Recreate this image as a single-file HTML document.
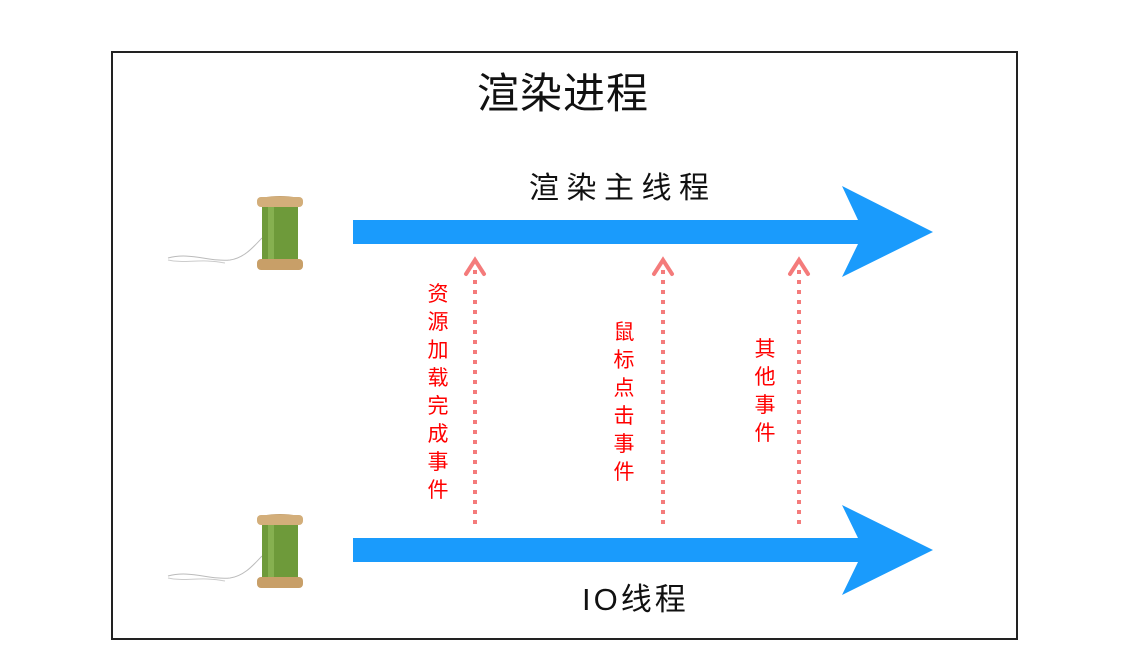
<!DOCTYPE html>
<html><head><meta charset="utf-8"><style>
body{margin:0;width:1142px;height:661px;background:#fff;position:relative;overflow:hidden;font-family:"Liberation Sans","Noto Sans CJK SC","WenQuanYi Zen Hei",sans-serif}
.box{position:absolute;left:111px;top:51px;width:903px;height:585px;border:2px solid #222}
.t{position:absolute;white-space:nowrap;color:#111}
.v{position:absolute;width:30px;text-align:center;color:#f00;font-size:21px;line-height:28px}
</style></head><body>
<div class="box"></div>
<div class="t" style="left:477px;top:70px;font-size:42px;line-height:48px;letter-spacing:1px">渲染进程</div>
<div class="t" style="left:529px;top:172px;font-size:30px;line-height:34px;letter-spacing:7.5px">渲染主线程</div>
<div class="t" style="left:582px;top:583px;font-size:31px;line-height:34px;letter-spacing:3px">IO线程</div>
<svg width="1142" height="661" style="position:absolute;left:0;top:0">
<polygon points="353,220 858,220 842,186 933,232 842,277 858,244 353,244" fill="#1a9bfc"/>
<polygon points="353,538 858,538 842,505 933,550 842,595 858,562 353,562" fill="#1a9bfc"/>
<g stroke="#f47b7b" fill="none">
<line x1="475" y1="270" x2="475" y2="524" stroke-width="4" stroke-dasharray="4 6"/>
<line x1="663" y1="270" x2="663" y2="524" stroke-width="4" stroke-dasharray="4 6"/>
<line x1="799" y1="270" x2="799" y2="524" stroke-width="4" stroke-dasharray="4 6"/>
<polyline points="466,274 475,260 484,274" stroke-width="4" stroke-linecap="round"/>
<polyline points="654,274 663,260 672,274" stroke-width="4" stroke-linecap="round"/>
<polyline points="790,274 799,260 808,274" stroke-width="4" stroke-linecap="round"/>
</g>
<g id="sp">
<path d="M168,258 C190,252 210,262 230,260 C245,258 255,245 262,238" stroke="#bbb" fill="none"/>
<path d="M168,260 C185,264 200,258 225,263" stroke="#ccc" fill="none"/>
<rect x="262" y="205" width="36" height="56" fill="#6e9a3a"/>
<rect x="268" y="205" width="6" height="56" fill="#86b050"/>
<ellipse cx="280" cy="201" rx="23" ry="5" fill="#c9a572"/>
<rect x="257" y="197" width="46" height="10" rx="4" fill="#d3ae7a"/>
<rect x="257" y="259" width="46" height="11" rx="4" fill="#c89f68"/>
</g>
<use href="#sp" y="318"/>
</svg>
<div class="v" style="left:423px;top:281px">资<br>源<br>加<br>载<br>完<br>成<br>事<br>件</div>
<div class="v" style="left:609px;top:319px">鼠<br>标<br>点<br>击<br>事<br>件</div>
<div class="v" style="left:750px;top:336px">其<br>他<br>事<br>件</div>
</body></html>
